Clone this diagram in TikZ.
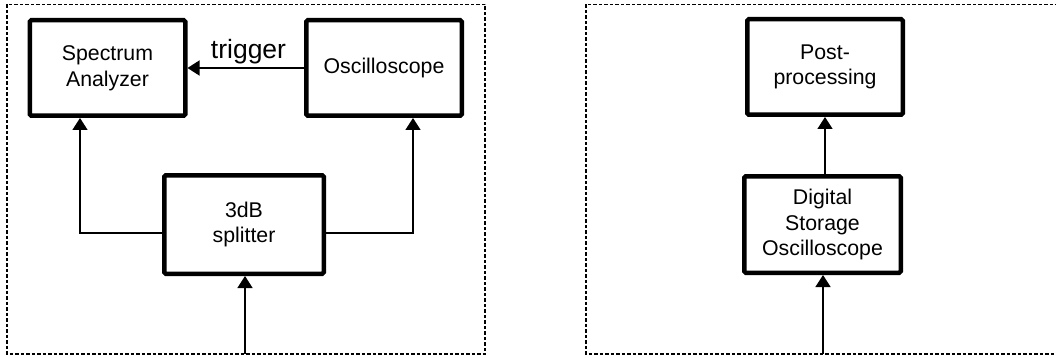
\documentclass[tikz,border=0pt]{standalone}
\usepackage{fontspec}
\setmainfont{Liberation Sans}
\usetikzlibrary{arrows.meta}
\begin{document}
\begin{tikzpicture}[x=1pt,y=-1pt,
  blockbox/.style={draw, line width=4.5pt, rounded corners=1.5pt, minimum width=155.5pt, minimum height=95.5pt, align=center, inner sep=0pt, font={\fontsize{21.3}{25.7}\selectfont}},
  conn/.style={line width=1.5pt, -{Triangle[length=12pt,width=15pt]}},
  frame/.style={line width=1.6pt, dash pattern=on 3.5pt off 2pt},
  triglabel/.style={font={\fontsize{26.5}{30}\selectfont}, inner sep=0pt, anchor=base}]
\useasboundingbox (0,0) rectangle (1056,358);
\clip (0,0) rectangle (1056,358);
% frames
\draw[frame] (7,4.5) rectangle (485,354);
\draw[frame] (586,4.5) rectangle (1064,354);
% left
\node[blockbox] (sa) at (107.5,68) {Spectrum\\Analyzer};
\node[blockbox] (osc) at (384,68) {Oscilloscope};
\node[blockbox, minimum width=159.5pt, minimum height=98.5pt] (spl) at (244,224.5) {3dB\\splitter};
\node[triglabel] (trig) at (248.5,59) {trigger};
\coordinate (in1) at (245,354);
\draw[conn] (osc.west) -- (sa.east);
\draw[conn] ([yshift=-8.5pt]spl.west) -| ([xshift=-27.5pt]sa.south);
\draw[conn] ([yshift=-8.5pt]spl.east) -| ([xshift=29pt]osc.south);
\draw[conn] (in1) -- (in1 |- spl.south);
% right
\node[blockbox] (pp) at (825,67) {Post-\\processing};
\node[blockbox, minimum width=156.5pt, minimum height=96.5pt] (dso) at (822.5,224.5) {Digital\\Storage\\Oscilloscope};
\coordinate (in2) at (823,354);
\draw[conn] (pp.south |- dso.north) -- (pp.south);
\draw[conn] (in2) -- (in2 |- dso.south);
\end{tikzpicture}
\end{document}
